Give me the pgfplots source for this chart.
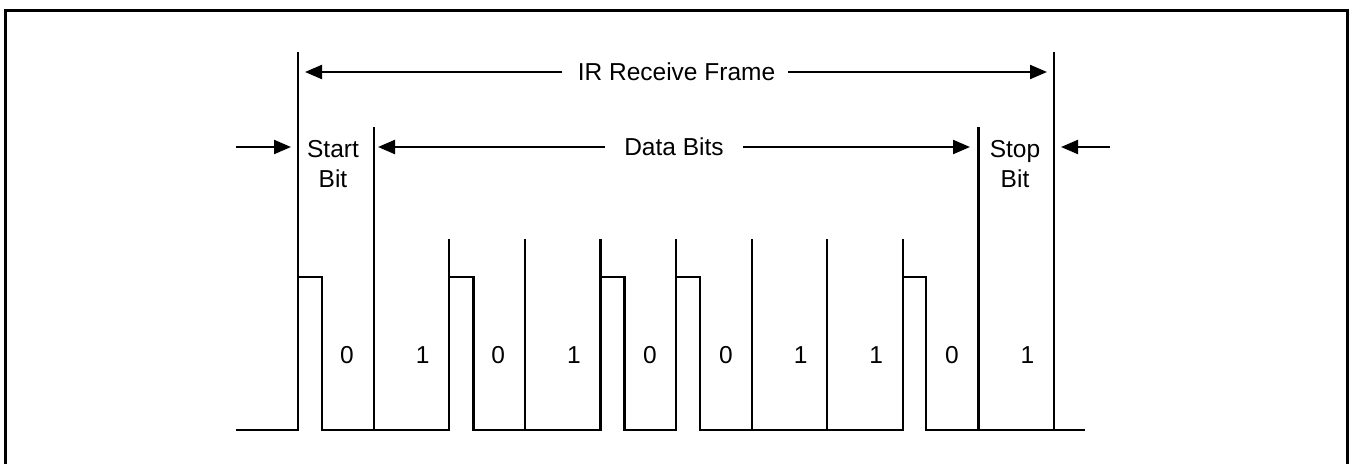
\documentclass[border=0pt]{standalone}
\usepackage{pgfplots}
\pgfplotsset{compat=1.18}
\usepackage{fontspec}
\setmainfont{Liberation Sans}
\usetikzlibrary{arrows.meta}
\tikzset{
  lbl/.style={font=\fontsize{24.5}{30}\selectfont, inner sep=0pt, align=center},
  arr/.style={-{Triangle[length=17pt,width=14pt]}},
}
\begin{document}
\begin{tikzpicture}
\begin{axis}[
  name=main,
  width=1356pt, height=463pt, scale only axis,
  xmin=0, xmax=1356, ymin=0, ymax=463, y dir=reverse,
  hide axis, clip=true,
  cycle list={{black,solid,mark=none}},
  every axis plot/.append style={line width=2.2pt, black, mark=none, line join=miter},
]
% outer frame
\addplot[line width=3pt] coordinates {(5.5,475) (5.5,10.5) (1347.5,10.5) (1347.5,475)};
% waveform
\addplot coordinates {
 (236,430) (298,430) (298,277) (322,277) (322,430)
 (449.2,430) (449.2,277) (473.5,277) (473.5,430)
 (600.4,430) (600.4,277) (624.5,277) (624.5,430)
 (676,430) (676,277) (700.3,277) (700.3,430)
 (902.8,430) (902.8,277) (926.3,277) (926.3,430)
 (1085,430)};
% bit boundaries
\addplot coordinates {(298,430) (298,52)};
\addplot coordinates {(373.6,430) (373.6,127)};
\addplot coordinates {(449.2,430) (449.2,239)};
\addplot coordinates {(524.8,430) (524.8,239)};
\addplot coordinates {(600.4,430) (600.4,239)};
\addplot coordinates {(676,430) (676,239)};
\addplot coordinates {(751.6,430) (751.6,239)};
\addplot coordinates {(827.2,430) (827.2,239)};
\addplot coordinates {(902.8,430) (902.8,239)};
\addplot coordinates {(978.4,430) (978.4,127)};
\addplot coordinates {(1054,430) (1054,52)};
% arrows
\addplot[arr] coordinates {(562,72) (305,72)};
\addplot[arr] coordinates {(788,72) (1047,72)};
\addplot[arr] coordinates {(605,147) (378,147)};
\addplot[arr] coordinates {(743,147) (970,147)};
\addplot[arr] coordinates {(236,147) (291,147)};
\addplot[arr] coordinates {(1110,147) (1061,147)};
% texts
\node[lbl] at (axis cs:676.5,72) {IR Receive Frame};
\node[lbl] at (axis cs:674,147) {Data Bits};
\node[lbl] at (axis cs:333,164) {Start\\Bit};
\node[lbl] at (axis cs:1015,164) {Stop\\Bit};
\node[lbl] at (axis cs:347,355) {0};
\node[lbl] at (axis cs:422.6,355) {1};
\node[lbl] at (axis cs:498.2,355) {0};
\node[lbl] at (axis cs:574,355) {1};
\node[lbl] at (axis cs:650,355) {0};
\node[lbl] at (axis cs:726,355) {0};
\node[lbl] at (axis cs:800.6,355) {1};
\node[lbl] at (axis cs:876.2,355) {1};
\node[lbl] at (axis cs:952,355) {0};
\node[lbl] at (axis cs:1027.5,355) {1};
\end{axis}
\path (main.south west) rectangle (main.north east);
\end{tikzpicture}
\end{document}
